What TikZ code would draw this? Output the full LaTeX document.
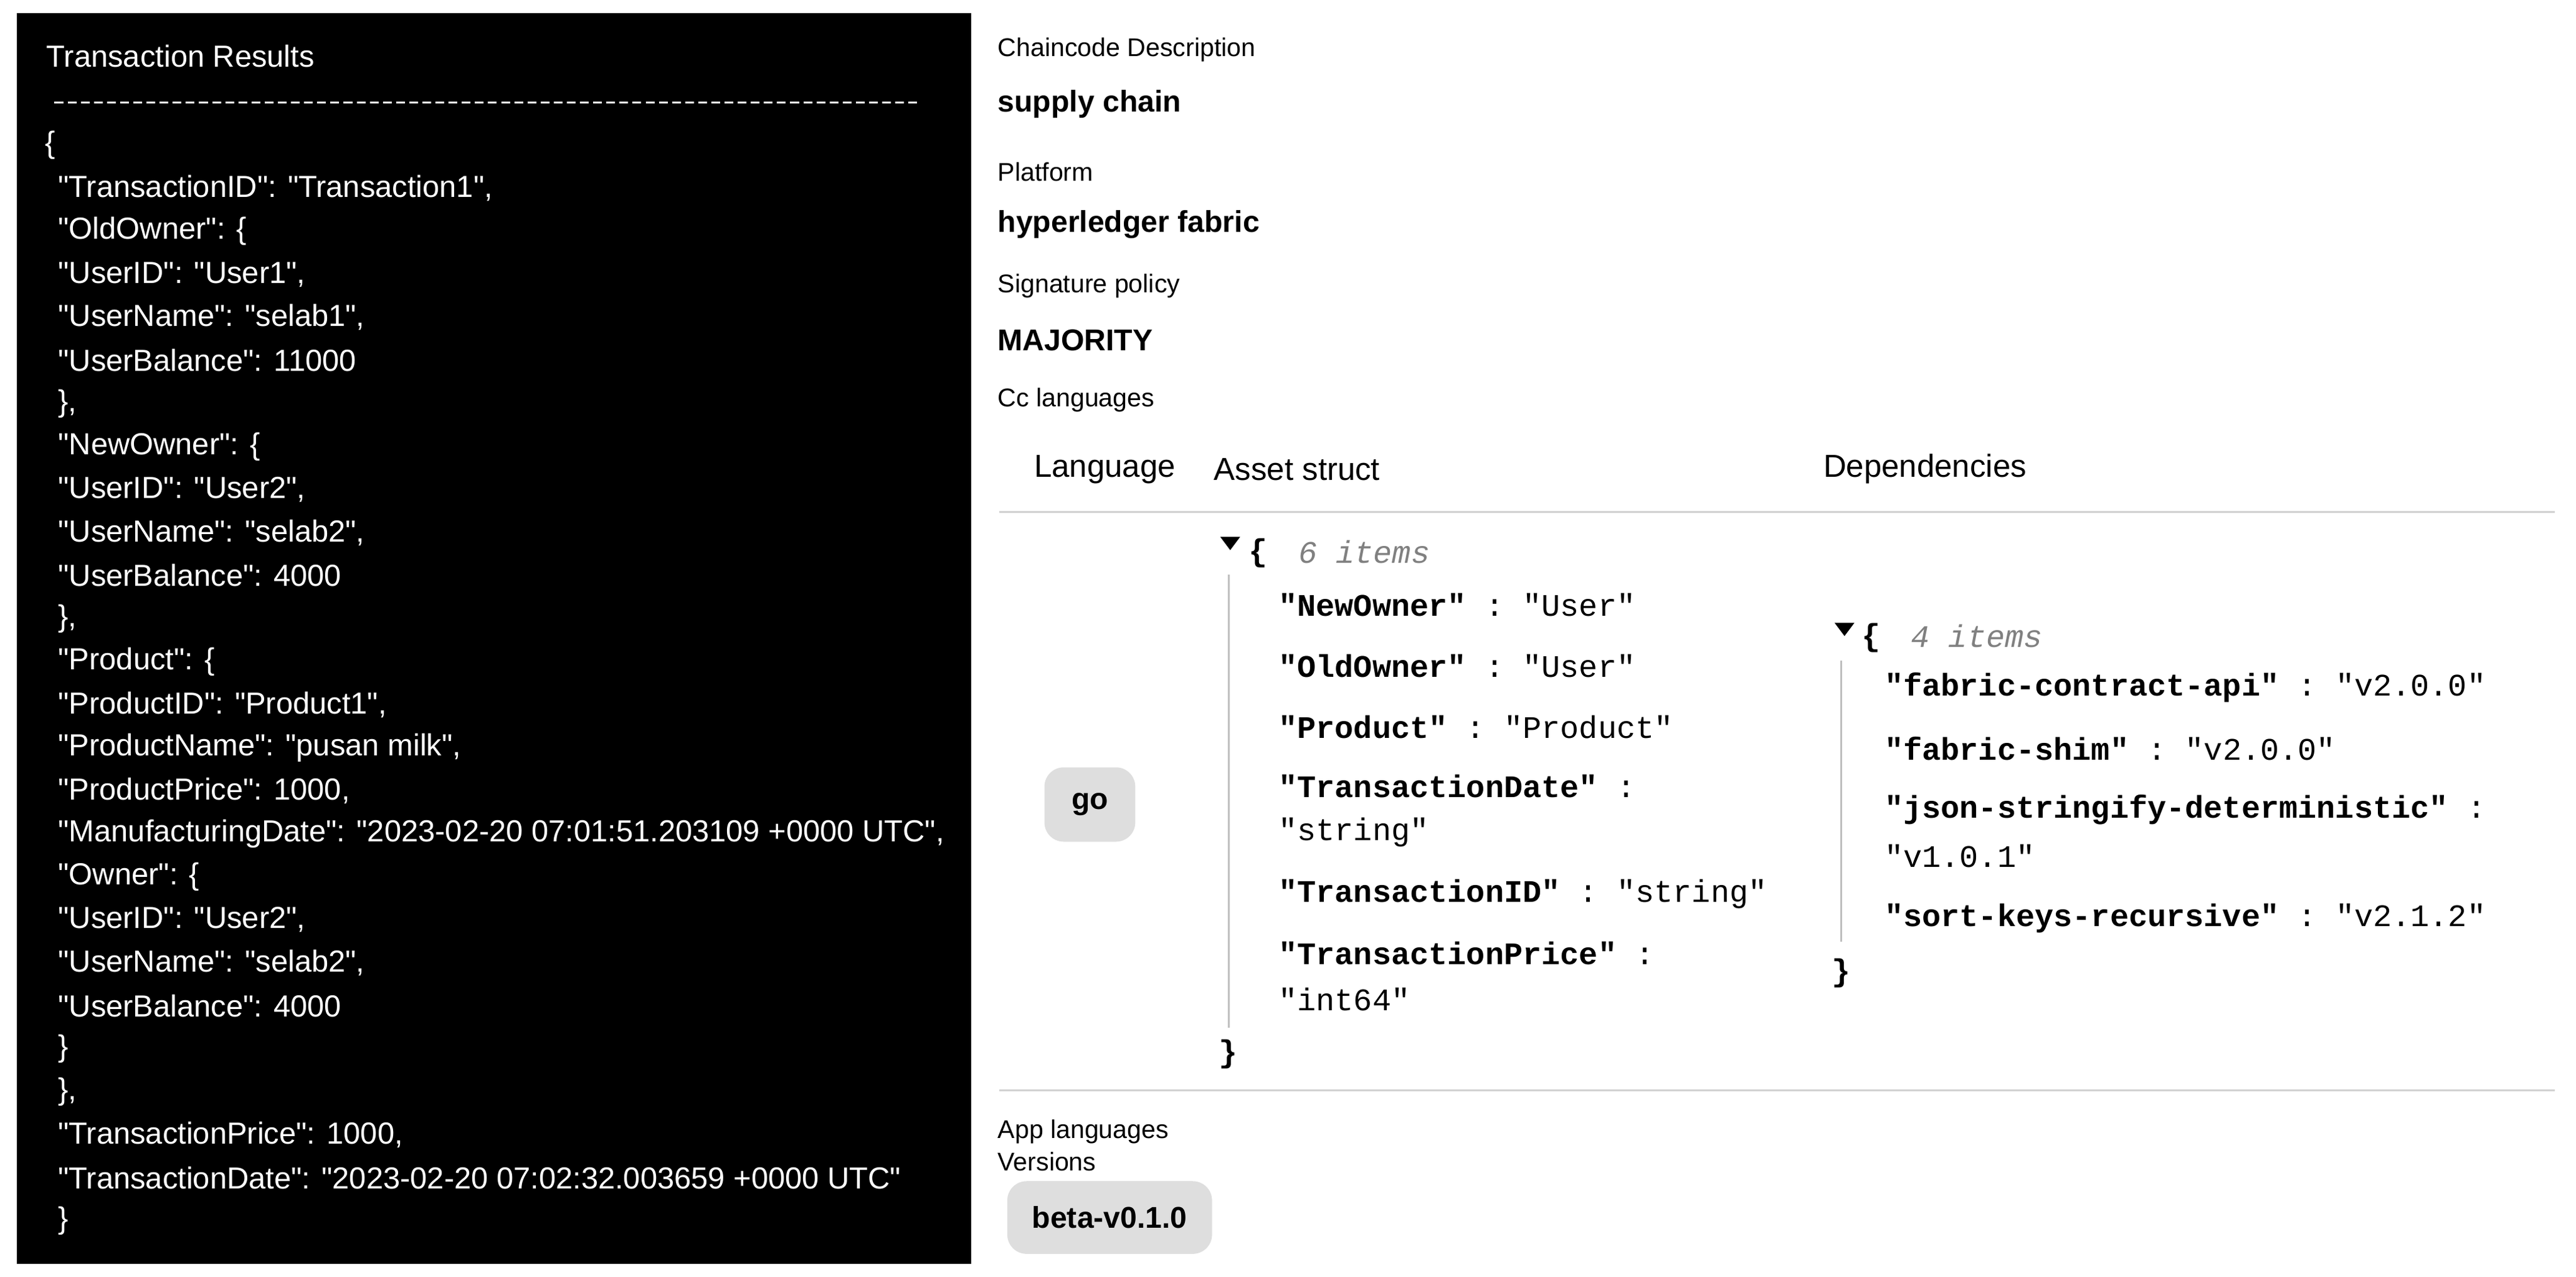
\documentclass[tikz,border=0pt]{standalone}
\usepackage{fontspec}
\setmainfont{Liberation Sans}[Ligatures=TeXOff]
\setmonofont{Liberation Mono}
\begin{document}
\begin{tikzpicture}[x=0.0265cm,y=-0.0265cm,
  bl/.style={anchor=west,inner sep=0pt,text=white,font=\fontsize{13.9}{14}\selectfont},
  lab/.style={anchor=west,inner sep=0pt,font=\fontsize{11.7}{12}\selectfont},
  val/.style={anchor=west,inner sep=0pt,font=\fontsize{13.7}{14}\selectfont\bfseries},
  hd/.style={anchor=west,inner sep=0pt,font=\fontsize{14.5}{15}\selectfont},
  js/.style={anchor=west,inner sep=0pt,font=\fontsize{14.3}{15}\ttfamily},
  cnt/.style={anchor=west,inner sep=0pt,text=gray,font=\fontsize{14.3}{15}\ttfamily\itshape},
  pill/.style={rounded corners=22\pgflinewidth,fill=black!13,draw=none,font=\fontsize{13.7}{14}\selectfont\bfseries},
  sep/.style={draw=black!18,line width=0.8pt},
  tri/.style={fill=black}]
\useasboundingbox (0,0) rectangle (1560,773);
\fill[black] (10,8) rectangle (588,765);
\node[bl] (t0) at (28,34) {Transaction Results};
\draw[white,line width=1pt,dash pattern=on 4pt off 2pt] (33,62) -- (557,62);
\foreach \i/\x/\t in {0/27/{\{},
 1/35/{"TransactionID": "Transaction1",},
 2/35/{"OldOwner": \{},
 3/35/{"UserID": "User1",},
 4/35/{"UserName": "selab1",},
 5/35/{"UserBalance": 11000},
 6/35/{\},},
 7/35/{"NewOwner": \{},
 8/35/{"UserID": "User2",},
 9/35/{"UserName": "selab2",},
 10/35/{"UserBalance": 4000},
 11/35/{\},},
 12/35/{"Product": \{},
 13/35/{"ProductID": "Product1",},
 14/35/{"ProductName": "pusan milk",},
 15/35/{"ProductPrice": 1000,},
 16/35/{"ManufacturingDate": "2023-02-20 07:01:51.203109 +0000 UTC",},
 17/35/{"Owner": \{},
 18/35/{"UserID": "User2",},
 19/35/{"UserName": "selab2",},
 20/35/{"UserBalance": 4000},
 21/35/{\}},
 22/35/{\},},
 23/35/{"TransactionPrice": 1000,},
 24/35/{"TransactionDate": "2023-02-20 07:02:32.003659 +0000 UTC"},
 25/35/{\}}}
 \node[bl] (l\i) at (\x,88+26.04*\i) {\t};
% right side
\node[lab] (a1) at (604,30) {Chaincode Description};
\node[val] (a2) at (604,63) {supply chain};
\node[lab] (a3) at (604,104) {Platform};
\node[val] (a4) at (604,136) {hyperledger fabric};
\node[lab] (a5) at (604,173) {Signature policy};
\node[val] (a6) at (604,206) {MAJORITY};
\node[lab] (a7) at (604,242) {Cc languages};
\node[hd] (h1) at (626,284) {Language};
\node[hd] (h2) at (735,284) {Asset struct};
\node[hd] (h3) at (1104,284) {Dependencies};
\draw[sep] (605,310) -- (1547,310);
\draw[sep] (605,660) -- (1547,660);
\node[pill,minimum width=55*0.0265cm,minimum height=45*0.0265cm] (go) at (660,487) {go};
% asset struct
\fill[tri] (739,325) -- (751,325) -- (745,333) -- cycle;
\node[js,font=\fontsize{14.3}{15}\ttfamily\bfseries] (ob1) at (756,335) {\{};
\node[cnt] (c1) at (786,334) {6 items};
\draw[black!25,line width=0.8pt] (744,348) -- (744,622);
\node[js] (s1) at (774,366) {\textbf{"NewOwner"} : "User"};
\node[js] (s2) at (774,403) {\textbf{"OldOwner"} : "User"};
\node[js] (s3) at (774,440) {\textbf{"Product"} : "Product"};
\node[js] (s4) at (774,476) {\textbf{"TransactionDate"} :};
\node[js] (s5) at (774,504) {"string"};
\node[js] (s6) at (774,541) {\textbf{"TransactionID"} : "string"};
\node[js] (s7) at (774,577) {\textbf{"TransactionPrice"} :};
\node[js] (s8) at (774,605) {"int64"};
\node[js,font=\fontsize{14.3}{15}\ttfamily\bfseries] (cb1) at (738,638) {\}};
% dependencies
\fill[tri] (1111,377) -- (1123,377) -- (1117,385) -- cycle;
\node[js,font=\fontsize{14.3}{15}\ttfamily\bfseries] (ob2) at (1127,386) {\{};
\node[cnt] (c2) at (1157,385) {4 items};
\draw[black!25,line width=0.8pt] (1115,400) -- (1115,570);
\node[js] (d1) at (1141,416) {\textbf{"fabric-contract-api"} : "v2.0.0"};
\node[js] (d2) at (1141,453) {\textbf{"fabric-shim"} : "v2.0.0"};
\node[js] (d3) at (1141,490) {\textbf{"json-stringify-deterministic"} :};
\node[js] (d4) at (1141,518) {"v1.0.1"};
\node[js] (d5) at (1141,556) {\textbf{"sort-keys-recursive"} : "v2.1.2"};
\node[js,font=\fontsize{14.3}{15}\ttfamily\bfseries] (cb2) at (1109,589) {\}};
\node[lab] (b1) at (604,685) {App languages};
\node[lab] (b2) at (604,703) {Versions};
\node[pill,minimum width=124*0.0265cm,minimum height=44*0.0265cm] (ver) at (672,737) {beta-v0.1.0};
\end{tikzpicture}
\end{document}
